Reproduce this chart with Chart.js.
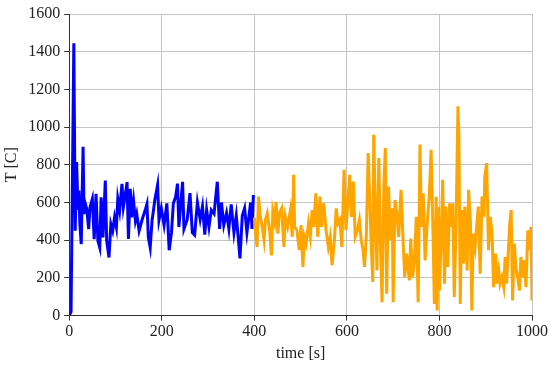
<!DOCTYPE html>
<html>
<head>
<meta charset="utf-8">
<script src="https://cdn.jsdelivr.net/npm/chart.js@4"></script>
<style>
html,body{margin:0;padding:0;background:#fff;}
#c{display:block;}
</style>
</head>
<body>
<canvas id="c" width="550" height="366"></canvas>
<script>
// Blue series (phase 1)
const blueTime = [1,4,10,13,16,19,21,23,26,30,32,35,38,42,45,50,54,58,62,66,69,73,78,81,86,90,94,98,102,105,109,114,117,121,125,128,132,135,139,143,146,151,155,159,164,168,171,175,179,182,185,191,194,199,205,211,216,221,225,230,234,237,245,248,255,261,266,271,277,283,288,293,297,302,307,313,320,325,329,334,340,345,350,356,361,365,369,374,379,384,392,395,398];
const blueTemp = [5,20,1445,450,815,560,664,486,379,895,539,592,566,459,575,619,406,646,397,361,628,415,717,397,308,486,450,521,468,619,557,699,575,637,708,406,673,521,610,504,539,450,486,521,557,592,415,361,504,557,613,693,507,570,480,595,347,440,595,630,700,470,710,460,510,650,440,427,600,510,580,430,560,470,560,540,710,460,600,480,545,460,590,440,530,420,303,530,570,440,600,460,640];
// Orange series (phase 2)
const orangeTime = [400,402,406,409,413,417,421,424,428,433,437,440,444,447,451,454,459,464,467,472,478,482,485,487,492,497,501,505,508,512,517,521,525,528,533,537,542,545,550,555,560,564,568,573,577,581,585,589,594,598,602,606,610,614,618,623,627,631,635,638,642,646,649,653,656,658,662,665,669,673,676,680,683,686,690,694,698,700,704,708,712,717,722,725,729,735,738,742,746,750,754,758,761,765,769,773,778,782,786,789,793,795,798,800,804,807,811,814,818,822,825,829,832,836,840,842,845,848,852,855,860,863,867,870,873,877,881,884,888,892,896,898,902,906,910,914,917,921,924,928,931,935,939,942,945,949,952,955,958,962,965,969,973,976,980,983,987,991,994,998,1000];
const orangeTemp = [520,453,364,631,524,471,400,507,542,453,320,551,498,604,435,542,569,364,524,471,560,418,747,471,453,347,480,258,418,382,489,418,560,471,649,418,631,471,596,453,364,418,267,400,569,489,507,364,773,453,596,747,524,711,418,453,507,400,347,258,418,862,649,347,178,960,507,240,836,329,71,693,889,116,684,400,569,71,613,542,418,667,364,204,329,187,409,204,293,524,71,907,471,649,293,471,631,880,453,62,631,27,578,133,418,720,169,578,258,596,471,596,98,489,1111,951,62,560,276,578,240,667,489,27,436,364,489,578,222,631,524,738,809,347,524,418,151,329,169,240,169,204,151,311,169,347,489,560,80,382,258,204,133,311,204,293,151,453,347,471,80];
const xTicks = [0,200,400,600,800,1000];
const yTicks = [0,200,400,600,800,1000,1200,1400,1600];

const pts = (xs, ys) => xs.map((x, i) => ({x: x, y: ys[i]}));
const FAMILY = '"Liberation Serif", "Times New Roman", serif';
Chart.defaults.font.family = FAMILY;
Chart.defaults.font.size = 16;
Chart.defaults.color = '#222';
const font = {family: FAMILY, size: 16};

new Chart(document.getElementById('c'), {
  type: 'line',
  data: {
    datasets: [
      {data: pts(orangeTime, orangeTemp), borderColor: '#ffa500', borderWidth: 3, pointRadius: 0, tension: 0, fill: false},
      {data: pts(blueTime, blueTemp), borderColor: '#0000ff', borderWidth: 3, pointRadius: 0, tension: 0, fill: false}
    ]
  },
  options: {
    responsive: false,
    devicePixelRatio: 1,
    animation: false,
    layout: {padding: {left: 2, right: 3, top: 14, bottom: 3}},
    plugins: {legend: {display: false}, tooltip: {enabled: false}},
    scales: {
      x: {
        type: 'linear', min: 0, max: 1000,
        afterBuildTicks: (s) => { s.ticks = xTicks.map(v => ({value: v})); },
        ticks: {font: font, color: '#222', padding: 2, maxRotation: 0, callback: (v) => String(v)},
        grid: {color: '#c4c4c4', lineWidth: 1, tickLength: 5, tickColor: '#333'},
        border: {color: '#333', width: 1},
        title: {display: true, text: 'time [s]', font: font, color: '#222', padding: {top: 0, bottom: 0}}
      },
      y: {
        type: 'linear', min: 0, max: 1600,
        afterBuildTicks: (s) => { s.ticks = yTicks.map(v => ({value: v})); },
        ticks: {font: font, color: '#222', padding: 4, callback: (v) => String(v)},
        grid: {color: '#c4c4c4', lineWidth: 1, tickLength: 5, tickColor: '#333'},
        border: {color: '#333', width: 1},
        title: {display: true, text: 'T [C]', font: font, color: '#222', padding: {top: 0, bottom: 3}}
      }
    }
  }
});
</script>
</body>
</html>
